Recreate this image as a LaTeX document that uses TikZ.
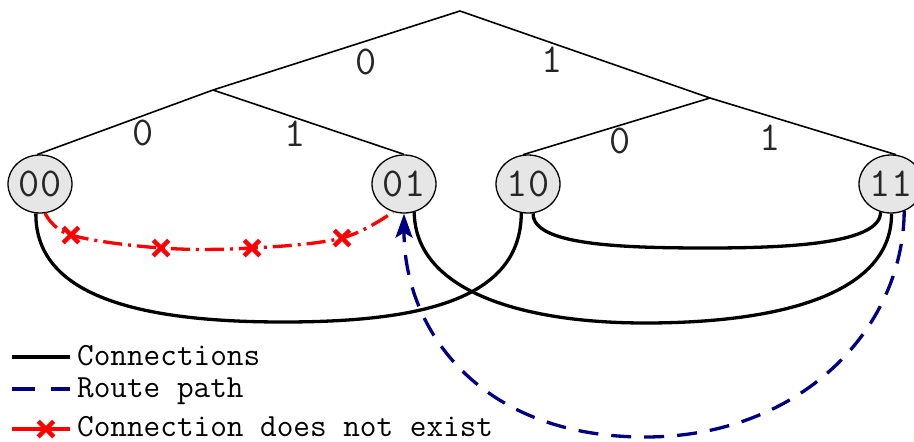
\documentclass[tikz,border=0pt]{standalone}
\usepackage{fontspec}
\usetikzlibrary{arrows.meta,shapes.geometric,shapes.misc}
\definecolor{nodegray}{RGB}{230,230,230}
\definecolor{routeblue}{RGB}{0,0,128}
\tikzset{
  leaf/.style={ellipse, draw=black, line width=1.3pt, fill=nodegray, minimum width=64pt, minimum height=58pt, inner sep=0pt, font=\ttfamily\fontsize{41}{41}\selectfont, text=black!85},
  treeedge/.style={line width=1.6pt},
  bitlabel/.style={font=\ttfamily\fontsize{41}{41}\selectfont, text=black!85, inner sep=0pt},
  conn/.style={line width=3.3pt},
  noconn/.style={red, line width=3.3pt, dash pattern=on 19pt off 6pt on 3pt off 6pt},
  route/.style={routeblue, line width=3.3pt, dash pattern=on 20pt off 13pt},
  xmark/.style={cross out, draw=red, line width=4.5pt, minimum size=11pt, inner sep=0pt},
  legtext/.style={font=\ttfamily\fontsize{32.3}{32.3}\selectfont, anchor=base west, inner sep=0pt},
}
\begin{document}
\begin{tikzpicture}[x=1pt,y=-1pt]
\useasboundingbox (0,0) rectangle (914,442);
% tree
\coordinate (root) at (460,11);
\coordinate (L) at (213,90);
\coordinate (R) at (710,98);
\node[leaf] (n00) at (40,184) {00};
\node[leaf] (n01) at (404,184) {01};
\node[leaf] (n10) at (528,184) {10};
\node[leaf] (n11) at (891,184) {11};
\draw[treeedge] (root) -- (L);
\draw[treeedge] (root) -- (R);
\draw[treeedge] (L) -- (n00.95);
\draw[treeedge] (L) -- (n01.north);
\draw[treeedge] (R) -- (n10.100);
\draw[treeedge] (R) -- (n11.80);
\node[bitlabel] (b0) at (366,62) {0};
\node[bitlabel] (b1) at (552,60) {1};
\node[bitlabel] (b00) at (143,133) {0};
\node[bitlabel] (b01) at (295,134) {1};
\node[bitlabel] (b10) at (620,141) {0};
\node[bitlabel] (b11) at (770,138) {1};
% connections
\draw[conn] (n00.262) .. controls (35,300) and (150,322) .. (283,322)
   .. controls (420,322) and (521,300) .. (n10.257);
\draw[conn] (n01.290) .. controls (415,290) and (520,323) .. (645,323)
   .. controls (790,323) and (892,290) .. (n11.271);
\draw[conn] (n10.280) .. controls (532,245) and (620,248) .. (708,248)
   .. controls (800,248) and (880,242) .. (n11.250);
% non-existing connection
\coordinate (r1) at (71,235);
\coordinate (r2) at (161,248);
\coordinate (r3) at (252,248);
\coordinate (r4) at (342,238);
\draw[noconn] plot[smooth, tension=0.6] coordinates {(45,213) (r1) (r2) (r3) (r4) (393,212)};
\node[xmark] (x1) at (r1) {};
\node[xmark] (x2) at (r2) {};
\node[xmark] (x3) at (r3) {};
\node[xmark] (x4) at (r4) {};
% route path
\draw[route, -{Stealth[length=24pt,width=17pt,inset=5pt]}] (n11.296) .. controls (903,330) and (800,437) .. (645,437)
   .. controls (480,437) and (404,330) .. (n01.south);
% legend
\coordinate (l1a) at (12,357); \coordinate (l1b) at (70,357);
\coordinate (l2a) at (12,389); \coordinate (l2b) at (70,389);
\coordinate (l3a) at (12,429); \coordinate (l3b) at (70,429);
\draw[conn] (l1a) -- (l1b);
\draw[route, dash pattern=on 23pt off 16pt] (l2a) -- (l2b);
\draw[red, line width=3.3pt] (l3a) -- (l3b);
\node[xmark] (lx) at (46,429) {};
\node[legtext] (t1) at (77,365) {Connections};
\node[legtext] (t2) at (77,397) {Route path};
\node[legtext] (t3) at (77,436) {Connection does not exist};
\end{tikzpicture}
\end{document}
